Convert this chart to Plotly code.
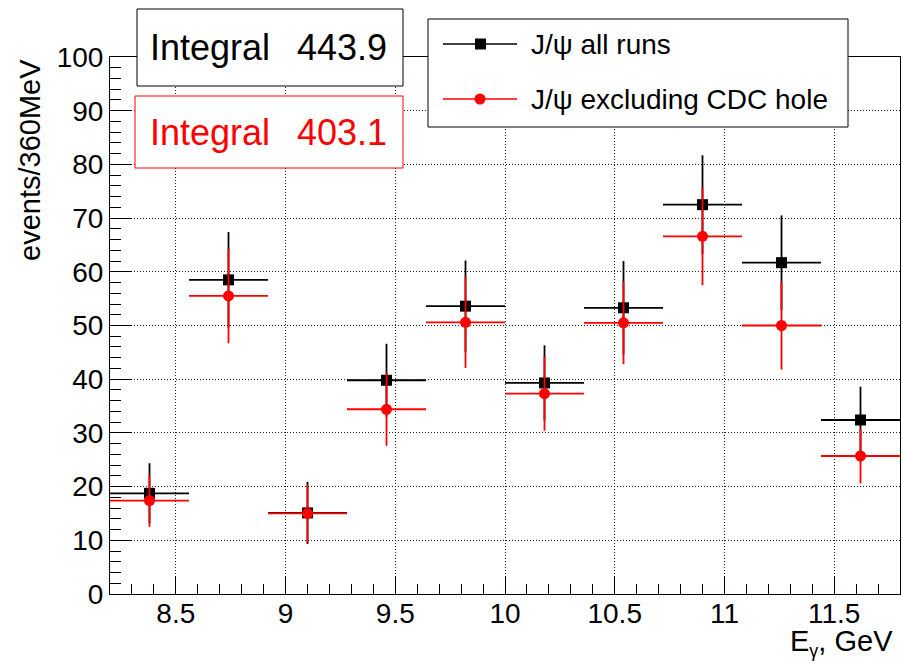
import plotly.graph_objects as go

# ---- data ----
bin_centers = [8.38, 8.74, 9.10, 9.46, 9.82, 10.18, 10.54, 10.90, 11.26, 11.62]
bin_half_width = [0.18] * 10

all_runs = [18.75, 58.5, 15.1, 39.8, 53.6, 39.3, 53.3, 72.5, 61.7, 32.4]
all_runs_err = [5.6, 8.9, 5.8, 6.8, 8.5, 7.0, 8.7, 9.2, 8.8, 6.2]

no_hole = [17.4, 55.5, 15.0, 34.4, 50.6, 37.3, 50.5, 66.6, 50.0, 25.7]
no_hole_err = [4.9, 8.8, 5.4, 6.8, 8.5, 6.9, 7.7, 9.1, 8.2, 5.1]

series_names = ["J/\u03c8 all runs", "J/\u03c8 excluding CDC hole"]
integrals = ["443.9", "403.1"]

FONT = "Liberation Sans, Arial, Helvetica, sans-serif"
W, H = 903, 661
L, R, T, B = 110, 3, 57, 67
PW, PH = W - L - R, H - T - B


def px(x):
    return (x - L) / PW


def py(y):
    return (H - B - y) / PH


fig = go.Figure()

fig.add_trace(go.Scatter(
    x=bin_centers, y=all_runs, mode="markers", name=series_names[0],
    marker=dict(symbol="square", size=11, color="black"),
    error_y=dict(type="data", array=all_runs_err, color="black", thickness=1.8, width=0),
    error_x=dict(type="data", array=bin_half_width, color="black", thickness=1.8, width=0),
    showlegend=False,
))
fig.add_trace(go.Scatter(
    x=bin_centers, y=no_hole, mode="markers", name=series_names[1],
    marker=dict(symbol="circle", size=11, color="#ff0000"),
    error_y=dict(type="data", array=no_hole_err, color="#ff0000", thickness=1.8, width=0),
    error_x=dict(type="data", array=bin_half_width, color="#ff0000", thickness=1.8, width=0),
    showlegend=False,
))

axis_common = dict(
    showline=True, linecolor="black", linewidth=1, mirror=True,
    ticks="inside", tickcolor="black", tickwidth=1,
    showgrid=True, gridcolor="#222222", gridwidth=1, griddash="1px,2px",
    zeroline=False,
    tickfont=dict(family=FONT, size=28, color="black"),
)

fig.update_xaxes(
    range=[8.2, 11.8], dtick=0.5, tick0=8.5, ticklen=18, ticklabelstandoff=-6,
    minor=dict(dtick=0.1, tick0=8.2, ticklen=10, ticks="inside", tickcolor="black", showgrid=False),
    **axis_common,
)
fig.update_yaxes(
    range=[0, 100], dtick=10, ticklen=22,
    minor=dict(dtick=2, ticklen=11, ticks="inside", tickcolor="black", showgrid=False),
    **axis_common,
)

shapes = []
annotations = []

# stat boxes
box_specs = [
    (137, 9, 403, 86, "black", integrals[0]),
    (135, 96, 403, 168, "#ff0000", integrals[1]),
]
for x0, y0, x1, y1, col, val in box_specs:
    shapes.append(dict(type="rect", xref="paper", yref="paper",
                       x0=px(x0), x1=px(x1), y0=py(y0), y1=py(y1),
                       line=dict(color=col, width=1), fillcolor="white", layer="above"))
    yc = py((y0 + y1) / 2)
    annotations.append(dict(xref="paper", yref="paper", x=px(148), y=yc,
                            xanchor="left", yanchor="middle", text="Integral",
                            showarrow=False, font=dict(family=FONT, size=36, color=col)))
    annotations.append(dict(xref="paper", yref="paper", x=px(x1 - 14), y=yc,
                            xanchor="right", yanchor="middle", text=val,
                            showarrow=False, font=dict(family=FONT, size=36, color=col)))

# legend box
shapes.append(dict(type="rect", xref="paper", yref="paper",
                   x0=px(428), x1=px(848), y0=py(19), y1=py(127),
                   line=dict(color="black", width=1), fillcolor="white", layer="above"))
leg = [(44, "black", "square", series_names[0]), (99, "#ff0000", "circle", series_names[1])]
for yy, col, sym, name in leg:
    shapes.append(dict(type="line", xref="paper", yref="paper",
                       x0=px(443), x1=px(517), y0=py(yy), y1=py(yy),
                       line=dict(color=col, width=1.5), layer="above"))
    if sym == "square":
        shapes.append(dict(type="rect", xref="paper", yref="paper",
                           x0=px(475), x1=px(486), y0=py(yy - 5.5), y1=py(yy + 5.5),
                           line=dict(color=col, width=0), fillcolor=col, layer="above"))
    else:
        shapes.append(dict(type="circle", xref="paper", yref="paper",
                           x0=px(474.5), x1=px(485.5), y0=py(yy - 5.5), y1=py(yy + 5.5),
                           line=dict(color=col, width=0), fillcolor=col, layer="above"))
    annotations.append(dict(xref="paper", yref="paper", x=px(529), y=py(yy),
                            xanchor="left", yanchor="middle", text=name,
                            showarrow=False, font=dict(family=FONT, size=28, color="black")))

# axis titles
annotations.append(dict(xref="paper", yref="paper", x=px(30), y=py(57),
                        xanchor="center", yanchor="top", text="events/360MeV", textangle=-90,
                        showarrow=False, font=dict(family=FONT, size=29, color="black")))
annotations.append(dict(xref="paper", yref="paper", x=px(895), y=py(663),
                        xanchor="right", yanchor="bottom",
                        text="E<sub><span style='font-size:18px'>\u03b3</span></sub>, GeV",
                        showarrow=False, font=dict(family=FONT, size=29, color="black")))

fig.update_layout(
    width=W, height=H,
    margin=dict(l=L, r=R, t=T, b=B),
    paper_bgcolor="white", plot_bgcolor="white",
    shapes=shapes, annotations=annotations,
    showlegend=False,
    font=dict(family=FONT, color="black"),
)

fig.write_html(
    "out.html",
    config={"displayModeBar": False},
    post_script="document.body.style.margin='0';document.body.style.overflow='hidden';",
)
